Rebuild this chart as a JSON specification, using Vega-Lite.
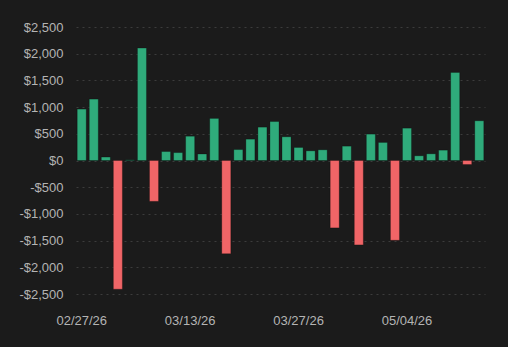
{
  "$schema": "https://vega.github.io/schema/vega-lite/v6.json",
  "autosize": {"type": "none"},
  "width": 409,
  "height": 267,
  "padding": {"left": 76, "top": 27, "right": 23, "bottom": 53},
  "background": "#1b1b1b",
  "config": {
    "view": {"stroke": null},
    "font": "Liberation Sans",
    "axis": {
      "labelFont": "Liberation Sans",
      "labelFontSize": 13,
      "labelColor": "#b4b4b4",
      "domain": false,
      "ticks": false
    }
  },
  "data": {
    "values": [
      {"date": "02/27/26", "pnl": 963},
      {"date": "03/02/26", "pnl": 1150},
      {"date": "03/03/26", "pnl": 65},
      {"date": "03/04/26", "pnl": -2410},
      {"date": "03/05/26", "pnl": 12},
      {"date": "03/06/26", "pnl": 2105},
      {"date": "03/09/26", "pnl": -765},
      {"date": "03/10/26", "pnl": 168},
      {"date": "03/11/26", "pnl": 148},
      {"date": "03/13/26", "pnl": 455},
      {"date": "03/16/26", "pnl": 122},
      {"date": "03/17/26", "pnl": 788},
      {"date": "03/18/26", "pnl": -1745},
      {"date": "03/19/26", "pnl": 205},
      {"date": "03/20/26", "pnl": 400},
      {"date": "03/23/26", "pnl": 625},
      {"date": "03/24/26", "pnl": 730},
      {"date": "03/25/26", "pnl": 444},
      {"date": "03/27/26", "pnl": 244},
      {"date": "03/30/26", "pnl": 181},
      {"date": "03/31/26", "pnl": 200},
      {"date": "04/01/26", "pnl": -1262},
      {"date": "04/06/26", "pnl": 269},
      {"date": "04/10/26", "pnl": -1581},
      {"date": "04/15/26", "pnl": 494},
      {"date": "04/22/26", "pnl": 338},
      {"date": "04/28/26", "pnl": -1494},
      {"date": "05/04/26", "pnl": 606},
      {"date": "05/05/26", "pnl": 88},
      {"date": "05/06/26", "pnl": 125},
      {"date": "05/07/26", "pnl": 194},
      {"date": "05/08/26", "pnl": 1650},
      {"date": "05/11/26", "pnl": -75},
      {"date": "05/12/26", "pnl": 744}
    ]
  },
  "mark": {"type": "bar", "stroke": "#000000", "strokeOpacity": 0.25, "strokeWidth": 1},
  "encoding": {
    "x": {
      "field": "date",
      "type": "ordinal",
      "sort": null,
      "title": null,
      "scale": {"paddingInner": 0.25, "paddingOuter": 0.1},
      "axis": {
        "values": ["02/27/26", "03/13/26", "03/27/26", "05/04/26"],
        "labelAngle": 0,
        "labelPadding": 20,
        "grid": false
      }
    },
    "y": {
      "field": "pnl",
      "type": "quantitative",
      "title": null,
      "scale": {"domain": [-2500, 2500], "nice": false},
      "axis": {
        "values": [-2500, -2000, -1500, -1000, -500, 0, 500, 1000, 1500, 2000, 2500],
        "labelExpr": "(datum.value < 0 ? '-$' : '$') + format(abs(datum.value), ',')",
        "labelPadding": 13,
        "grid": true,
        "gridColor": "#3c3c3c",
        "gridDash": [2, 4],
        "gridWidth": 1
      }
    },
    "color": {
      "condition": {"test": "datum.pnl < 0", "value": "#f06567"},
      "value": "#2fab7b"
    }
  }
}
